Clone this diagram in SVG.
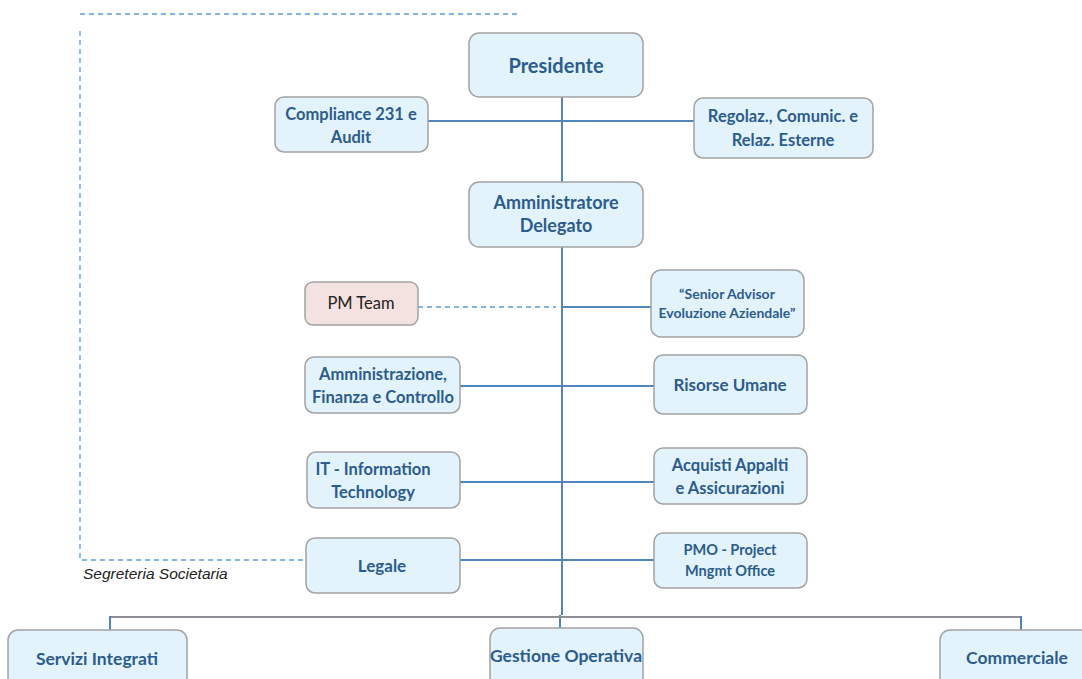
<svg xmlns="http://www.w3.org/2000/svg" width="1082" height="679" viewBox="0 0 1082 679">
<style>
.box{fill:#E3F3FB;stroke:#A3A3A3;stroke-width:1.5}
.pink{fill:#F4E2E1;stroke:#A3A3A3;stroke-width:1.5}
.t{font-family:Lato,"Open Sans",sans-serif;font-weight:bold;fill:#2B5C8E;text-anchor:middle;font-size:16.5px}
.ln{stroke:#4F86BE;stroke-width:2;fill:none}
.gr{stroke:#8C9096;stroke-width:2;fill:none}
.ds{stroke:#5B9BD5;stroke-width:1.3;stroke-dasharray:5,4;fill:none}
</style>
<rect width="1082" height="679" fill="#fff"/>
<g id="connectors">
<path class="ds" d="M80 14H518"/>
<path class="ds" d="M80 31V560H305"/>
<path class="ds" d="M418 307H556"/>
<path class="ln" d="M562 97V615"/>
<path class="ln" d="M560 615V628"/>
<path class="ln" d="M428 121H694"/>
<path class="ln" d="M562 307H651"/>
<path class="ln" d="M460 386H654"/>
<path class="ln" d="M460 482H654"/>
<path class="ln" d="M460 560H654"/>
<path class="gr" d="M110 617H1021"/>
<path class="ln" d="M110 616V630"/>
<path class="ln" d="M1021 616V630"/>
</g>
<g id="presidente"><rect class="box" x="469" y="33" width="174" height="64" rx="10"/><text class="t" x="556" y="73" style="font-size:20px">Presidente</text></g>
<g id="compliance"><rect class="box" x="275" y="97" width="153" height="55" rx="9"/><text class="t" x="351" y="120">Compliance 231 e</text><text class="t" x="351" y="143">Audit</text></g>
<g id="regolaz"><rect class="box" x="694" y="98" width="179" height="60" rx="9"/><text class="t" x="783" y="122">Regolaz., Comunic. e</text><text class="t" x="783" y="146">Relaz. Esterne</text></g>
<g id="ad"><rect class="box" x="469" y="182" width="174" height="65" rx="10"/><text class="t" x="556" y="209" style="font-size:18px">Amministratore</text><text class="t" x="556" y="232" style="font-size:18px">Delegato</text></g>
<g id="pmteam"><rect class="pink" x="305" y="282" width="113" height="43" rx="8"/><text class="t" x="361" y="309" style="font-weight:normal;fill:#222">PM Team</text></g>
<g id="senior"><rect class="box" x="651" y="270" width="153" height="67" rx="10"/><text class="t" x="727" y="299" style="font-size:14px">“Senior Advisor</text><text class="t" x="727" y="318" style="font-size:14px">Evoluzione Aziendale”</text></g>
<g id="afc"><rect class="box" x="305" y="357" width="155" height="56" rx="9"/><text class="t" x="383" y="380">Amministrazione,</text><text class="t" x="383" y="403">Finanza e Controllo</text></g>
<g id="hr"><rect class="box" x="654" y="355" width="153" height="59" rx="9"/><text class="t" x="730" y="391" style="font-size:17px">Risorse Umane</text></g>
<g id="it"><rect class="box" x="307" y="452" width="153" height="56" rx="9"/><text class="t" x="373" y="475">IT - Information</text><text class="t" x="373" y="498">Technology</text></g>
<g id="acquisti"><rect class="box" x="654" y="448" width="153" height="56" rx="9"/><text class="t" x="730" y="471">Acquisti Appalti</text><text class="t" x="730" y="494">e Assicurazioni</text></g>
<g id="legale"><rect class="box" x="306" y="538" width="154" height="55" rx="9"/><text class="t" x="382" y="572" style="font-size:17px">Legale</text></g>
<text x="83" y="579" style="font-family:'Liberation Sans',Arial,sans-serif;font-style:italic;font-size:15.5px;fill:#222">Segreteria Societaria</text>
<g id="pmo"><rect class="box" x="654" y="533" width="153" height="55" rx="9"/><text class="t" x="730" y="555" style="font-size:14.5px">PMO - Project</text><text class="t" x="730" y="576" style="font-size:14.5px">Mngmt Office</text></g>
<g id="servizi"><rect class="box" x="8" y="630" width="179" height="65" rx="10"/><text class="t" x="97" y="665" style="font-size:17.5px">Servizi Integrati</text></g>
<g id="gestione"><rect class="box" x="490" y="628" width="153" height="65" rx="10"/><text class="t" x="566" y="662" style="font-size:17.5px">Gestione Operativa</text></g>
<g id="commerciale"><rect class="box" x="940" y="630" width="160" height="65" rx="10"/><text class="t" x="1017" y="664" style="font-size:17.5px">Commerciale</text></g>
</svg>
